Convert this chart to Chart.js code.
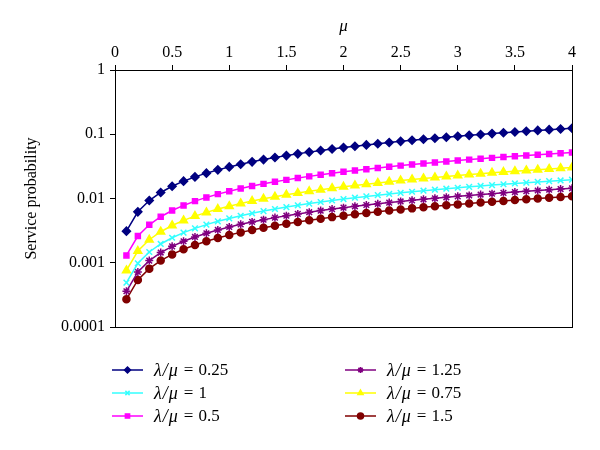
<!DOCTYPE html>
<html>
<head>
<meta charset="utf-8">
<script src="https://cdn.jsdelivr.net/npm/chart.js@4.4.0/dist/chart.umd.min.js"></script>
<style>
  html, body { margin: 0; padding: 0; background: #fff; }
</style>
</head>
<body>
<canvas id="myChart" width="600" height="450"></canvas>
<script>
// x values (mu)
const mu = [0.1, 0.2, 0.3, 0.4, 0.5, 0.6, 0.7, 0.8, 0.9, 1.0,
  1.1, 1.2, 1.3, 1.4, 1.5, 1.6, 1.7, 1.8, 1.9, 2.0,
  2.1, 2.2, 2.3, 2.4, 2.5, 2.6, 2.7, 2.8, 2.9, 3.0,
  3.1, 3.2, 3.3, 3.4, 3.5, 3.6, 3.7, 3.8, 3.9, 4.0];

// service probability
const p025 = [0.0031, 0.0062, 0.0093, 0.0124, 0.0155, 0.0186, 0.0217, 0.0248, 0.0279, 0.031,
  0.0341, 0.0372, 0.0403, 0.0434, 0.0465, 0.0496, 0.0527, 0.0558, 0.0589, 0.062,
  0.0651, 0.0682, 0.0713, 0.0744, 0.0775, 0.0806, 0.0837, 0.0868, 0.0899, 0.093,
  0.0961, 0.0992, 0.1023, 0.1054, 0.1085, 0.1116, 0.1147, 0.1178, 0.1209, 0.124];
const p05 = [0.0013, 0.0026, 0.0039, 0.0052, 0.0065, 0.0078, 0.0091, 0.0104, 0.0117, 0.013,
  0.0143, 0.0156, 0.0169, 0.0182, 0.0195, 0.0208, 0.0221, 0.0234, 0.0247, 0.026,
  0.0273, 0.0286, 0.0299, 0.0312, 0.0325, 0.0338, 0.0351, 0.0364, 0.0377, 0.039,
  0.0403, 0.0416, 0.0429, 0.0442, 0.0455, 0.0468, 0.0481, 0.0494, 0.0507, 0.052];
const p075 = [0.00076, 0.00152, 0.00228, 0.00304, 0.0038, 0.00456, 0.00532, 0.00608, 0.00684, 0.0076,
  0.00836, 0.00912, 0.00988, 0.01064, 0.0114, 0.01216, 0.01292, 0.01368, 0.01444, 0.0152,
  0.01596, 0.01672, 0.01748, 0.01824, 0.019, 0.01976, 0.02052, 0.02128, 0.02204, 0.0228,
  0.02356, 0.02432, 0.02508, 0.02584, 0.0266, 0.02736, 0.02812, 0.02888, 0.02964, 0.0304];
const p1 = [0.00049, 0.00098, 0.00147, 0.00196, 0.00245, 0.00294, 0.00343, 0.00392, 0.00441, 0.0049,
  0.00539, 0.00588, 0.00637, 0.00686, 0.00735, 0.00784, 0.00833, 0.00882, 0.00931, 0.0098,
  0.01029, 0.01078, 0.01127, 0.01176, 0.01225, 0.01274, 0.01323, 0.01372, 0.01421, 0.0147,
  0.01519, 0.01568, 0.01617, 0.01666, 0.01715, 0.01764, 0.01813, 0.01862, 0.01911, 0.0196];
const p125 = [0.00036, 0.00072, 0.00108, 0.00144, 0.0018, 0.00216, 0.00252, 0.00288, 0.00324, 0.0036,
  0.00396, 0.00432, 0.00468, 0.00504, 0.0054, 0.00576, 0.00612, 0.00648, 0.00684, 0.0072,
  0.00756, 0.00792, 0.00828, 0.00864, 0.009, 0.00936, 0.00972, 0.01008, 0.01044, 0.0108,
  0.01116, 0.01152, 0.01188, 0.01224, 0.0126, 0.01296, 0.01332, 0.01368, 0.01404, 0.0144];
const p15 = [0.00027, 0.00054, 0.00081, 0.00108, 0.00135, 0.00162, 0.00189, 0.00216, 0.00243, 0.0027,
  0.00297, 0.00324, 0.00351, 0.00378, 0.00405, 0.00432, 0.00459, 0.00486, 0.00513, 0.0054,
  0.00567, 0.00594, 0.00621, 0.00648, 0.00675, 0.00702, 0.00729, 0.00756, 0.00783, 0.0081,
  0.00837, 0.00864, 0.00891, 0.00918, 0.00945, 0.00972, 0.00999, 0.01026, 0.01053, 0.0108];

// legend order: first three in left column, next three in right column
const ratios = ["0.25", "1", "0.5", "1.25", "0.75", "1.5"];
const seriesData = [p025, p1, p05, p125, p075, p15];
const colors = ["#000080", "#33ffff", "#ff00ff", "#800080", "#ffff00", "#800000"];
const markers = ["rectRot", "crossRot", "rect", "star", "triangle", "circle"];
const markerSizes = [4, 4, 3.5, 4, 4.5, 3.5];

const yTicks = [0.0001, 0.001, 0.01, 0.1, 1];
const serif = "'Liberation Serif', 'DejaVu Serif', serif";

function toPoints(values) {
  return values.map((v, i) => ({ x: mu[i], y: v }));
}

const frame = {
  id: "frame",
  beforeDatasetsDraw(chart) {
    const a = chart.chartArea;
    const ctx = chart.ctx;
    ctx.save();
    ctx.strokeStyle = "#000";
    ctx.lineWidth = 1;
    ctx.strokeRect(a.left + 0.5, a.top + 0.5, a.right - a.left, a.bottom - a.top);
    ctx.restore();
  }
};

const legendBlock = {
  id: "legendBlock",
  afterDraw(chart) {
    const ctx = chart.ctx;
    ctx.save();
    chart.data.datasets.forEach((ds, i) => {
      const col = Math.floor(i / 3);
      const row = i % 3;
      const x0 = 112 + col * 233;
      const y = 370 + row * 23;
      ctx.strokeStyle = ds.borderColor;
      ctx.fillStyle = ds.backgroundColor;
      ctx.lineWidth = 1.5;
      ctx.beginPath();
      ctx.moveTo(x0, y);
      ctx.lineTo(x0 + 31, y);
      ctx.stroke();
      Chart.helpers.drawPoint(ctx, {
        pointStyle: ds.pointStyle,
        radius: 3,
        rotation: 0,
        borderWidth: 1.5
      }, x0 + 15.5, y);
      ctx.fillStyle = "#000";
      ctx.textBaseline = "middle";
      ctx.font = "italic 18px " + serif;
      let tx = x0 + 42;
      ctx.fillText("\u03bb", tx, y + 1);
      tx += ctx.measureText("\u03bb").width + 1;
      ctx.fillText("/", tx, y + 1);
      tx += ctx.measureText("/").width + 1;
      ctx.fillText("\u03bc", tx, y + 1);
      tx += ctx.measureText("\u03bc").width + 6;
      ctx.font = "17px " + serif;
      ctx.fillText("=", tx, y + 1);
      tx += ctx.measureText("=").width + 5;
      ctx.fillText(ratios[i], tx, y + 1);
    });
    ctx.restore();
  }
};

function mainEvent() {
  const target = document.querySelector("#myChart");
  const datasets = seriesData.map((vals, i) => ({
    label: "\u03bb/\u03bc = " + ratios[i],
    data: toPoints(vals),
    borderColor: colors[i],
    backgroundColor: colors[i],
    pointStyle: markers[i],
    pointRadius: markerSizes[i],
    pointBorderWidth: 1.5,
    borderWidth: 1.5,
    tension: 0
  }));

  new Chart(target, {
    type: "line",
    data: { datasets: datasets },
    options: {
      responsive: false,
      animation: false,
      devicePixelRatio: 1,
      layout: { padding: { left: 0, right: 28, top: 0, bottom: 123 } },
      plugins: {
        legend: { display: false },
        tooltip: { enabled: false }
      },
      scales: {
        x: {
          type: "linear",
          position: "top",
          min: 0,
          max: 4,
          afterFit: (s) => { s.height = 70; },
          ticks: {
            stepSize: 0.5,
            color: "#000",
            font: { family: serif, size: 16 },
            padding: 3,
            maxRotation: 0,
            callback: (v) => String(v)
          },
          grid: { display: true, drawOnChartArea: false, drawTicks: true, tickLength: 5, color: "#000" },
          border: { display: true, color: "#000", width: 1 },
          title: {
            display: true,
            text: "\u03bc",
            color: "#000",
            font: { family: serif, size: 17, style: "italic" },
            padding: { top: 16, bottom: 0 }
          }
        },
        y: {
          type: "logarithmic",
          min: 0.0001,
          max: 1,
          afterFit: (s) => { s.width = 115; },
          afterBuildTicks: (s) => { s.ticks = yTicks.map((v) => ({ value: v })); },
          ticks: {
            color: "#000",
            font: { family: serif, size: 16 },
            padding: 5,
            callback: (v) => String(v)
          },
          grid: { display: true, drawOnChartArea: false, drawTicks: true, tickLength: 5, color: "#000" },
          border: { display: true, color: "#000", width: 1 },
          title: {
            display: true,
            text: "Service probability",
            color: "#000",
            font: { family: serif, size: 16 },
            padding: { top: 22, bottom: 0 }
          }
        }
      }
    },
    plugins: [frame, legendBlock]
  });
}

document.addEventListener("DOMContentLoaded", () => mainEvent());
</script>
</body>
</html>
